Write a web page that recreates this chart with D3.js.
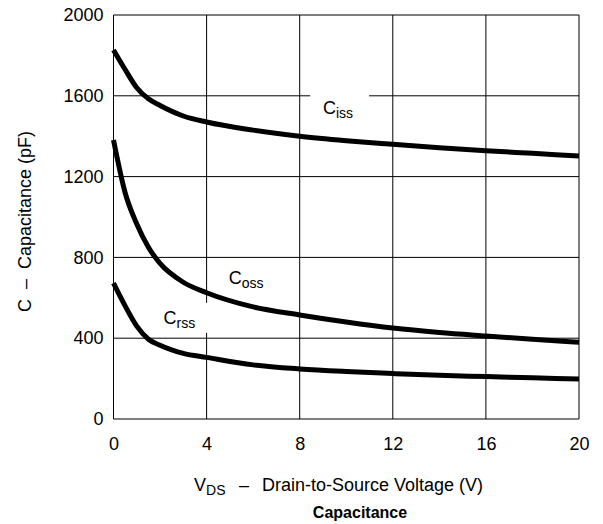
<!DOCTYPE html>
<html>
<head>
<meta charset="utf-8">
<script src="https://cdn.jsdelivr.net/npm/d3@7"></script>
<style>
  body { margin: 0; background: #fff; }
  text { font-family: "Liberation Sans", Arial, sans-serif; fill: #000; }
</style>
</head>
<body>
<div id="chart"></div>
<script>
// data
var vds = [0, 0.5, 1, 1.5, 2, 3, 4, 6, 8, 10, 12, 14, 16, 18, 20];
var ciss = [1827, 1730, 1640, 1585, 1552, 1500, 1470, 1430, 1400, 1378, 1360, 1343, 1328, 1315, 1302];
var coss = [1381, 1120, 965, 850, 770, 677, 625, 555, 515, 480, 450, 428, 411, 395, 380];
var crss = [673, 560, 460, 395, 365, 325, 305, 268, 248, 235, 225, 216, 210, 204, 198];
var xTicks = [0, 4, 8, 12, 16, 20];
var yTicks = [0, 400, 800, 1200, 1600, 2000];

var svgWidth = 603;
var svgHeight = 524;

var margin = {
    top: 15,
    right: 24,
    bottom: 105,
    left: 113.5
};

var width = svgWidth - margin.left - margin.right;
var height = svgHeight - margin.top - margin.bottom;

var svg = d3.select("#chart")
    .append("svg")
    .attr("width", svgWidth)
    .attr("height", svgHeight);

var chartGroup = svg.append("g")
    .attr("transform", `translate(${margin.left}, ${margin.top})`);

var xScale = d3.scaleLinear()
    .domain([0, 20])
    .range([0, width]);

var yScale = d3.scaleLinear()
    .domain([0, 2000])
    .range([height, 0]);

// grid
chartGroup.selectAll(".vgrid")
    .data(xTicks)
    .enter()
    .append("line")
    .attr("x1", d => xScale(d))
    .attr("x2", d => xScale(d))
    .attr("y1", 0)
    .attr("y2", height)
    .attr("stroke", "#000")
    .attr("stroke-width", 1);

chartGroup.selectAll(".hgrid")
    .data(yTicks)
    .enter()
    .append("line")
    .attr("x1", 0)
    .attr("x2", width)
    .attr("y1", d => yScale(d))
    .attr("y2", d => yScale(d))
    .attr("stroke", "#000")
    .attr("stroke-width", 1);

// white boxes behind the curve labels
chartGroup.append("rect")
    .attr("x", xScale(8.45))
    .attr("y", yScale(1650))
    .attr("width", 59)
    .attr("height", 30)
    .attr("fill", "#fff");

chartGroup.append("rect")
    .attr("x", xScale(1.85))
    .attr("y", yScale(575))
    .attr("width", 55)
    .attr("height", 30)
    .attr("fill", "#fff");

// axes tick labels
var bottomAxis = d3.axisBottom(xScale).tickValues(xTicks).tickSize(0).tickPadding(18)
    .tickFormat(d3.format("d"));
var leftAxis = d3.axisLeft(yScale).tickValues(yTicks).tickSize(0).tickPadding(10)
    .tickFormat(d3.format("d"));

var xAxisG = chartGroup.append("g")
    .attr("transform", `translate(0, ${height})`)
    .call(bottomAxis);
var yAxisG = chartGroup.append("g")
    .call(leftAxis);

[xAxisG, yAxisG].forEach(function(g) {
    g.select(".domain").remove();
    g.selectAll("text")
        .style("font-size", "18px")
        .style("font-family", "'Liberation Sans', Arial, sans-serif")
        .attr("fill", "#000");
});

// curves
var line = d3.line()
    .x((d, i) => xScale(vds[i]))
    .y(d => yScale(d))
    .curve(d3.curveMonotoneX);

[ciss, coss, crss].forEach(function(series) {
    chartGroup.append("path")
        .attr("d", line(series))
        .attr("fill", "none")
        .attr("stroke", "#000")
        .attr("stroke-width", 5)
        .attr("stroke-linejoin", "round");
});

// curve labels
function curveLabel(v, c, sub) {
    var t = chartGroup.append("text")
        .attr("x", xScale(v))
        .attr("y", yScale(c))
        .style("font-size", "18px");
    t.append("tspan").text("C");
    t.append("tspan")
        .attr("dy", 4)
        .style("font-size", "14px")
        .text(sub);
}
curveLabel(9.0, 1510, "iss");
curveLabel(4.95, 670, "oss");
curveLabel(2.15, 470, "rss");

// axis titles
var xt = svg.append("text")
    .attr("x", 194)
    .attr("y", 491)
    .style("font-size", "18px");
xt.append("tspan").text("V");
xt.append("tspan").attr("dy", 4).style("font-size", "14px").text("DS");
xt.append("tspan").attr("dy", -4).attr("x", 239).text("\u2013");
xt.append("tspan").attr("x", 262).text("Drain-to-Source Voltage (V)");

svg.append("text")
    .attr("x", 360)
    .attr("y", 518)
    .attr("text-anchor", "middle")
    .style("font-size", "16px")
    .style("font-weight", "bold")
    .text("Capacitance");

svg.append("text")
    .attr("transform", "rotate(-90)")
    .attr("x", -312)
    .attr("y", 31)
    .attr("xml:space", "preserve")
    .style("font-size", "18px")
    .text("C  \u2013  Capacitance (pF)");
</script>
</body>
</html>
